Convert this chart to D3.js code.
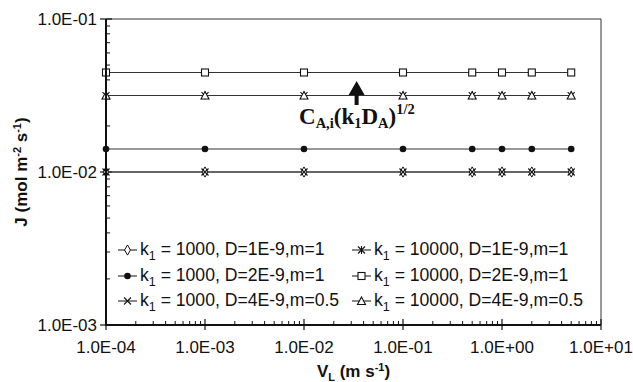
<!DOCTYPE html>
<html>
<head>
<meta charset="utf-8">
<script src="https://d3js.org/d3.v7.min.js"></script>
<style>
  body { margin: 0; background: #fff; }
  text { font-family: "Liberation Sans", Arial, sans-serif; fill: #111; }
  text.serif { font-family: "Liberation Serif", "Times New Roman", serif; }
  .series { fill: none; stroke: #333; stroke-width: 1.1; }
</style>
</head>
<body>
<div id="chart"></div>
<script>
var width = 633, height = 382;
var margin = {left: 106, right: 32, top: 19, bottom: 57};

// data
var velocities = [1e-4, 1e-3, 1e-2, 1e-1, 0.5, 1, 2, 5];
var seriesNames = [
  "1000, D=1E-9,m=1", "1000, D=2E-9,m=1", "1000, D=4E-9,m=0.5",
  "10000, D=1E-9,m=1", "10000, D=2E-9,m=1", "10000, D=4E-9,m=0.5"
];
var seriesFlux = [0.0100, 0.01414, 0.0100, 0.0316, 0.0447, 0.0316];
var seriesMarkers = ["diamond", "circle", "cross", "star", "square", "triangle"];
var xTicks = [1e-4, 1e-3, 1e-2, 1e-1, 1, 10];
var xTickLabels = ["1.0E-04", "1.0E-03", "1.0E-02", "1.0E-01", "1.0E+00", "1.0E+01"];
var yTicks = [1e-3, 1e-2, 1e-1];
var yTickLabels = ["1.0E-03", "1.0E-02", "1.0E-01"];

var svg = d3.select("#chart").append("svg")
  .attr("width", width).attr("height", height);

var x = d3.scaleLog().domain([1e-4, 10]).range([margin.left, width - margin.right]);
var y = d3.scaleLog().domain([1e-3, 1e-1]).range([height - margin.bottom, margin.top]);

var x0 = x.range()[0], x1 = x.range()[1], y0 = y.range()[0], y1 = y.range()[1];

// thin frame top/right
svg.append("path")
  .attr("d", "M" + x0 + "," + y1 + "H" + x1 + "V" + y0)
  .attr("fill", "none").attr("stroke", "#333").attr("stroke-width", 1);

// minor ticks
function minors(domain) {
  var out = [];
  for (var e = Math.log10(domain[0]); e < Math.log10(domain[1]); e++)
    for (var k = 2; k <= 9; k++) out.push(k * Math.pow(10, e));
  return out;
}
svg.append("g").selectAll("line").data(minors(x.domain())).enter().append("line")
  .attr("x1", d => x(d)).attr("x2", d => x(d))
  .attr("y1", y0).attr("y2", y0 - 4)
  .attr("stroke", "#111").attr("stroke-width", 1);
svg.append("g").selectAll("line").data(minors(y.domain())).enter().append("line")
  .attr("y1", d => y(d)).attr("y2", d => y(d))
  .attr("x1", x0).attr("x2", x0 + 4)
  .attr("stroke", "#111").attr("stroke-width", 1);

// major ticks
svg.append("g").selectAll("line").data(xTicks).enter().append("line")
  .attr("x1", d => x(d)).attr("x2", d => x(d))
  .attr("y1", y0 - 6).attr("y2", y0 + 5)
  .attr("stroke", "#111").attr("stroke-width", 1.2);
svg.append("g").selectAll("line").data(yTicks).enter().append("line")
  .attr("y1", d => y(d)).attr("y2", d => y(d))
  .attr("x1", x0 - 6).attr("x2", x0 + 6)
  .attr("stroke", "#111").attr("stroke-width", 1.2);

// series
var line = d3.line().x(d => x(d[0])).y(d => y(d[1]));
seriesFlux.forEach(function(v, i) {
  svg.append("path").attr("class", "series")
    .attr("d", line(velocities.map(u => [u, v])));
});

function marker(g, type, cx, cy) {
  if (type === "diamond") {
    g.append("path").attr("d", d3.symbol().type(d3.symbolDiamond).size(30)())
      .attr("transform", "translate(" + cx + "," + cy + ")")
      .attr("fill", "#fff").attr("stroke", "#111").attr("stroke-width", 1);
  } else if (type === "circle") {
    g.append("circle").attr("cx", cx).attr("cy", cy).attr("r", 3.3).attr("fill", "#111");
  } else if (type === "cross") {
    g.append("path").attr("d", "M-3.5,-3.5L3.5,3.5M-3.5,3.5L3.5,-3.5")
      .attr("transform", "translate(" + cx + "," + cy + ")")
      .attr("stroke", "#111").attr("stroke-width", 1.1);
  } else if (type === "star") {
    g.append("path").attr("d", "M-3.5,-3.5L3.5,3.5M-3.5,3.5L3.5,-3.5M0,-4V4")
      .attr("transform", "translate(" + cx + "," + cy + ")")
      .attr("stroke", "#111").attr("stroke-width", 1.1);
  } else if (type === "square") {
    g.append("rect").attr("x", cx - 3.5).attr("y", cy - 3.5).attr("width", 7).attr("height", 7)
      .attr("fill", "#fff").attr("stroke", "#111").attr("stroke-width", 1.1);
  } else if (type === "triangle") {
    g.append("path").attr("d", "M0,-4L4,3.5H-4Z")
      .attr("transform", "translate(" + cx + "," + cy + ")")
      .attr("fill", "#fff").attr("stroke", "#111").attr("stroke-width", 1.1);
  }
}

var markG = svg.append("g");
seriesFlux.forEach(function(v, i) {
  velocities.forEach(function(u) { marker(markG, seriesMarkers[i], x(u), y(v)); });
});

// thick left/bottom axes
svg.append("path")
  .attr("d", "M" + x0 + "," + y1 + "V" + y0 + "H" + x1)
  .attr("fill", "none").attr("stroke", "#111").attr("stroke-width", 2);

// tick labels
svg.append("g").selectAll("text").data(xTicks).enter().append("text")
  .attr("x", d => x(d)).attr("y", y0 + 28)
  .attr("text-anchor", "middle").attr("font-size", 17)
  .text((d, i) => xTickLabels[i]);
svg.append("g").selectAll("text").data(yTicks).enter().append("text")
  .attr("x", x0 - 9).attr("y", d => y(d) + 6)
  .attr("text-anchor", "end").attr("font-size", 17)
  .text((d, i) => yTickLabels[i]);

// axis titles
var xt = svg.append("text").attr("x", (x0 + x1) / 2).attr("y", 377)
  .attr("text-anchor", "middle").attr("font-size", 17).attr("font-weight", "bold");
xt.append("tspan").text("V");
xt.append("tspan").attr("dy", 4).attr("font-size", 11).text("L");
xt.append("tspan").attr("dy", -4).text(" (m s");
xt.append("tspan").attr("dy", -6).attr("font-size", 11).text("-1");
xt.append("tspan").attr("dy", 6).text(")");

var yt = svg.append("text")
  .attr("transform", "translate(27," + ((y0 + y1) / 2) + ") rotate(-90)")
  .attr("text-anchor", "middle").attr("font-size", 17).attr("font-weight", "bold");
yt.append("tspan").text("J (mol m");
yt.append("tspan").attr("dy", -6).attr("font-size", 11).text("-2");
yt.append("tspan").attr("dy", 6).text(" s");
yt.append("tspan").attr("dy", -6).attr("font-size", 11).text("-1");
yt.append("tspan").attr("dy", 6).text(")");

// legend
var legendCols = [118, 352];
var legendRows = [250, 276, 301];
seriesNames.forEach(function(name, i) {
  var lx = legendCols[Math.floor(i / 3)], ly = legendRows[i % 3];
  svg.append("line").attr("x1", lx).attr("x2", lx + 19).attr("y1", ly).attr("y2", ly)
    .attr("stroke", "#111").attr("stroke-width", 1);
  marker(svg, seriesMarkers[i], lx + 9.5, ly);
  var t = svg.append("text").attr("x", lx + 22).attr("y", ly + 5).attr("font-size", 17.6);
  t.append("tspan").text("k");
  t.append("tspan").attr("dy", 5).attr("font-size", 12.5).text("1");
  t.append("tspan").attr("dy", -5).text(" = " + name);
});

// annotation
var ax = x(0.034);
svg.append("path")
  .attr("d", "M" + ax + "," + 81 + "L" + (ax + 8) + ",95H" + (ax + 2) + "V105H" + (ax - 2) + "V95H" + (ax - 8) + "Z")
  .attr("fill", "#111");
var an = svg.append("text").attr("class", "serif").attr("x", 299).attr("y", 124)
  .attr("font-size", 23).attr("font-weight", "bold");
an.append("tspan").text("C");
an.append("tspan").attr("dy", 4).attr("font-size", 14.5).text("A,i");
an.append("tspan").attr("dy", -4).text("(k");
an.append("tspan").attr("dy", 4).attr("font-size", 14.5).text("1");
an.append("tspan").attr("dy", -4).text("D");
an.append("tspan").attr("dy", 4).attr("font-size", 14.5).text("A");
an.append("tspan").attr("dy", -4).text(")");
an.append("tspan").attr("dy", -10).attr("font-size", 14.5).text("1/2");
</script>
</body>
</html>
